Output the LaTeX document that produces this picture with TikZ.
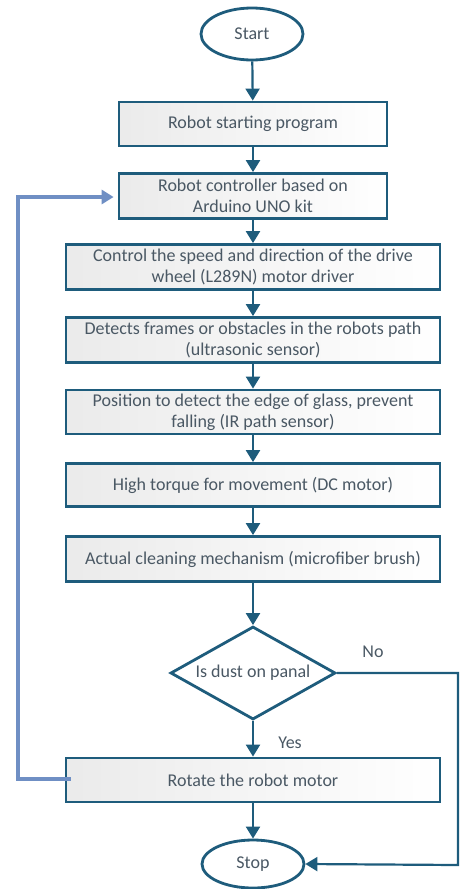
\documentclass[tikz,border=0pt]{standalone}
\usepackage{fontspec}
\setmainfont{Carlito}
\usetikzlibrary{shapes.geometric,arrows.meta}
\definecolor{dblue}{HTML}{1E5C7C}
\definecolor{lblue}{HTML}{6F8FC4}
\definecolor{tgray}{HTML}{4A5864}
\begin{document}
\begin{tikzpicture}[x=0.5pt,y=-0.5pt,
  every node/.style={font=\fontsize{9pt}{10.4pt}\selectfont, text=tgray},
  procbox/.style={draw=dblue, line width=1.4pt, rectangle, left color=black!8, right color=white, align=center, inner sep=0pt},
  term/.style={draw=dblue, line width=1.4pt, ellipse, fill=white, minimum width=51pt, minimum height=26pt, inner sep=0pt},
  decis/.style={draw=dblue, line width=1.4pt, diamond, aspect=1.77, fill=white, minimum width=82.5pt, minimum height=46.5pt, inner sep=0pt},
  flow/.style={draw=dblue, line width=1.1pt, -{Triangle[width=7pt,length=6pt]}},
  loopline/.style={draw=lblue, line width=2pt, -{Triangle[width=7pt,length=6pt]}},
  lbl/.style={text=tgray}]
\useasboundingbox (0,0) rectangle (461,889);
\node[term] (start) at (252,34) {Start};
\node[procbox, minimum width=134pt, minimum height=22pt] (b1) at (253,124) {Robot starting program};
\node[procbox, minimum width=134pt, minimum height=22.5pt] (b2) at (253,196) {Robot controller based on\\Arduino UNO kit};
\node[procbox, minimum width=187pt, minimum height=22.5pt] (b3) at (253,267) {Control the speed and direction of the drive\\wheel (L289N) motor driver};
\node[procbox, minimum width=187pt, minimum height=22.5pt] (b4) at (253,340) {Detects frames or obstacles in the robots path\\(ultrasonic sensor)};
\node[procbox, minimum width=187pt, minimum height=22pt] (b5) at (253,412) {Position to detect the edge of glass, prevent\\falling (IR path sensor)};
\node[procbox, minimum width=187pt, minimum height=21.5pt] (b6) at (253,485) {High torque for movement (DC motor)};
\node[procbox, minimum width=187pt, minimum height=22.5pt] (b7) at (253,559) {Actual cleaning mechanism (microfiber brush)};
\node[decis] (d) at (253,673) {Is dust on panal};
\node[procbox, minimum width=187pt, minimum height=22pt] (b8) at (253,780) {Rotate the robot motor};
\node[term, minimum height=24pt] (stop) at (253,864) {Stop};
\node[lbl] (no) at (373,652) {No};
\node[lbl] (yes) at (290,743) {Yes};
\coordinate (nr) at (458,673);
\coordinate (nb) at (458,865);
\coordinate (la) at (18,779);
\coordinate (lb) at (18,197);
\draw[flow] (start) -- (b1);
\draw[flow] (b1) -- (b2);
\draw[flow] (b2) -- (b3);
\draw[flow] (b3) -- (b4);
\draw[flow] (b4) -- (b5);
\draw[flow] (b5) -- (b6);
\draw[flow] (b6) -- (b7);
\draw[flow] (b7) -- (d);
\draw[flow] (d) -- (b8);
\draw[flow] (b8) -- (stop);
\draw[flow] (d.east) -- (nr) -- (nb) -- (stop.east);
\draw[loopline] ([xshift=3pt]b8.west |- la) -- (la) -- (lb) -- ([xshift=-2pt]b2.west |- lb);
\end{tikzpicture}
\end{document}
